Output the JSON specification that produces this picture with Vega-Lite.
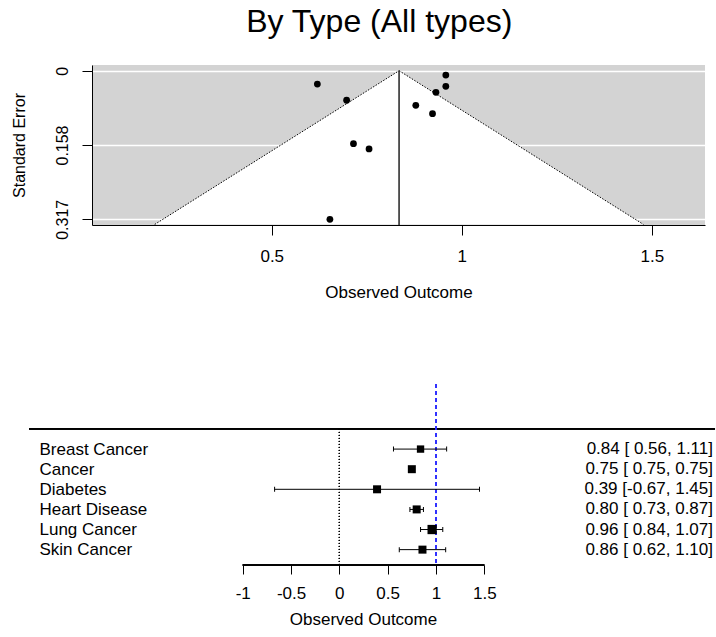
{
  "$schema": "https://vega.github.io/schema/vega-lite/v6.json",
  "padding": {"left": 11, "top": 6, "right": 0, "bottom": 0},
  "title": {"text": "By Type (All types)", "fontSize": 32, "fontWeight": "normal", "color": "black", "anchor": "middle", "dx": 16, "offset": 26},
  "spacing": 83,
  "datasets": {
    "points": [
      {"yi": 0.620, "se": 0.0284},
      {"yi": 0.697, "se": 0.063},
      {"yi": 0.715, "se": 0.1557},
      {"yi": 0.756, "se": 0.167},
      {"yi": 0.653, "se": 0.317},
      {"yi": 0.958, "se": 0.0092},
      {"yi": 0.958, "se": 0.0333},
      {"yi": 0.932, "se": 0.046},
      {"yi": 0.879, "se": 0.0738},
      {"yi": 0.923, "se": 0.0917}
    ],
    "funnel": [
      {"se": 0, "lo": 0.835, "hi": 0.835},
      {"se": 0.328, "lo": 0.192, "hi": 1.478}
    ],
    "studies": [
      {"study": "Breast Cancer", "est": 0.84, "lo": 0.56, "hi": 1.11, "weight": 13.5, "label": "0.84 [ 0.56, 1.11]"},
      {"study": "Cancer", "est": 0.75, "lo": 0.75, "hi": 0.75, "weight": 16, "label": "0.75 [ 0.75, 0.75]"},
      {"study": "Diabetes", "est": 0.39, "lo": -0.67, "hi": 1.45, "weight": 16, "label": "0.39 [-0.67, 1.45]"},
      {"study": "Heart Disease", "est": 0.80, "lo": 0.73, "hi": 0.87, "weight": 16, "label": "0.80 [ 0.73, 0.87]"},
      {"study": "Lung Cancer", "est": 0.96, "lo": 0.84, "hi": 1.07, "weight": 21.5, "label": "0.96 [ 0.84, 1.07]"},
      {"study": "Skin Cancer", "est": 0.86, "lo": 0.62, "hi": 1.10, "weight": 16, "label": "0.86 [ 0.62, 1.10]"}
    ]
  },
  "vconcat": [
    {
      "width": 613,
      "height": 160,
      "view": {"fill": "#d3d3d3", "stroke": null},
      "layer": [
        {
          "data": {"name": "funnel"},
          "mark": {"type": "area", "orient": "horizontal", "fill": "white", "opacity": 1},
          "encoding": {
            "y": {
              "field": "se", "type": "quantitative",
              "scale": {"domain": [-0.0122, 0.3292], "reverse": true, "nice": false, "zero": false},
              "axis": {
                "values": [0, 0.07925, 0.1585, 0.23775, 0.317],
                "labelExpr": "datum.value == 0 ? '0' : datum.value == 0.1585 ? '0.158' : datum.value == 0.317 ? '0.317' : ''",
                "labelAngle": -90, "labelAlign": "center", "labelBaseline": "bottom",
                "labelFlush": false, "labelOverlap": false,
                "tickSize": 10, "labelPadding": 12, "labelFontSize": 16,
                "grid": true, "gridColor": "white", "gridWidth": 1.5,
                "title": "Standard Error", "titleFontSize": 16, "titlePadding": 27
              }
            },
            "x": {
              "field": "lo", "type": "quantitative",
              "scale": {"domain": [0.027, 1.64], "nice": false, "zero": false},
              "axis": {
                "values": [0.5, 1, 1.5], "labelExpr": "'' + datum.value", "grid": false, "tickSize": 10, "labelPadding": 13,
                "labelFontSize": 17, "labelFlush": false,
                "title": "Observed Outcome", "titleFontSize": 17, "titlePadding": 20
              }
            },
            "x2": {"field": "hi"}
          }
        },
        {
          "data": {"name": "funnel"},
          "mark": {"type": "line", "color": "black", "strokeWidth": 1, "strokeDash": [1.5, 1.5]},
          "encoding": {
            "x": {"field": "lo", "type": "quantitative"},
            "y": {"field": "se", "type": "quantitative"}
          }
        },
        {
          "data": {"name": "funnel"},
          "mark": {"type": "line", "color": "black", "strokeWidth": 1, "strokeDash": [1.5, 1.5]},
          "encoding": {
            "x": {"field": "hi", "type": "quantitative"},
            "y": {"field": "se", "type": "quantitative"}
          }
        },
        {
          "data": {"name": "funnel"},
          "mark": {"type": "rule", "color": "#222", "strokeWidth": 1},
          "encoding": {
            "x": {"datum": 0.835, "type": "quantitative"},
            "y": {"datum": 0, "type": "quantitative"},
            "y2": {"datum": 0.3292}
          }
        },
        {
          "data": {"name": "points"},
          "mark": {"type": "circle", "color": "black", "size": 46, "opacity": 1},
          "encoding": {
            "x": {"field": "yi", "type": "quantitative"},
            "y": {"field": "se", "type": "quantitative"}
          }
        }
      ]
    },
    {
      "width": 621,
      "height": 181,
      "view": {"stroke": null},
      "data": {"name": "studies"},
      "layer": [
        {
          "mark": {"type": "rule", "color": "black", "strokeWidth": 1},
          "encoding": {
            "y": {
              "datum": "h1", "type": "nominal",
              "scale": {"type": "point", "domain": ["h2", "h1", "Breast Cancer", "Cancer", "Diabetes", "Heart Disease", "Lung Cancer", "Skin Cancer"], "padding": 1.141, "align": 0.618},
              "axis": {
                "labelExpr": "datum.value == 'h1' || datum.value == 'h2' ? '' : datum.value",
                "ticks": false, "tickSize": 0, "domain": false, "grid": false, "title": null,
                "labelAlign": "left", "labelBaseline": "middle", "labelPadding": 53, "labelFontSize": 17
              }
            },
            "x": {"datum": -3.211, "type": "quantitative", "scale": {"domain": [-2.5593, 3.866], "nice": false, "zero": false},
              "axis": {
                "values": [-1, -0.5, 0, 0.5, 1, 1.5], "labelExpr": "'' + datum.value", "domain": false, "grid": false, "tickSize": 9,
                "labelPadding": 11, "labelFontSize": 17, "labelFlush": false,
                "title": "Observed Outcome", "titleFontSize": 17, "titlePadding": 10, "titleX": 271, "titleAlign": "center"
              }
            },
            "x2": {"datum": 3.887}
          }
        },
        {
          "mark": {"type": "rule", "color": "#2f2fff", "strokeWidth": 1, "strokeDash": [4, 3]},
          "encoding": {
            "x": {"datum": 1, "type": "quantitative"}
          }
        },
        {
          "mark": {"type": "rule", "color": "black", "strokeWidth": 1, "strokeDash": [1, 2]},
          "encoding": {
            "x": {"datum": 0, "type": "quantitative"},
            "y": {"datum": "h1", "type": "nominal"},
            "y2": {"value": "height"}
          }
        },
        {
          "mark": {"type": "rule", "color": "black", "strokeWidth": 1},
          "encoding": {
            "x": {"datum": -1, "type": "quantitative"},
            "x2": {"datum": 1.5},
            "y": {"value": "height"}
          }
        },
        {
          "mark": {"type": "rule", "color": "black", "strokeWidth": 1},
          "encoding": {
            "x": {"field": "lo", "type": "quantitative"},
            "x2": {"field": "hi"},
            "y": {"field": "study", "type": "nominal"}
          }
        },
        {
          "mark": {"type": "tick", "orient": "vertical", "size": 5, "thickness": 1, "color": "black", "opacity": 1},
          "encoding": {
            "x": {"field": "lo", "type": "quantitative"},
            "y": {"field": "study", "type": "nominal"}
          }
        },
        {
          "mark": {"type": "tick", "orient": "vertical", "size": 5, "thickness": 1, "color": "black", "opacity": 1},
          "encoding": {
            "x": {"field": "hi", "type": "quantitative"},
            "y": {"field": "study", "type": "nominal"}
          }
        },
        {
          "mark": {"type": "square", "filled": true, "color": "black", "opacity": 1},
          "encoding": {
            "x": {"field": "est", "type": "quantitative"},
            "y": {"field": "study", "type": "nominal"},
            "size": {"field": "weight", "type": "quantitative", "scale": {"type": "linear", "domain": [0, 25], "range": [0, 100]}, "legend": null}
          }
        },
        {
          "mark": {"type": "text", "align": "right", "baseline": "middle", "fontSize": 17, "color": "black"},
          "encoding": {
            "x": {"datum": 3.866, "type": "quantitative"},
            "y": {"field": "study", "type": "nominal"},
            "text": {"field": "label"}
          }
        }
      ]
    }
  ],
  "config": {
    "font": "Liberation Sans",
    "view": {"stroke": null},
    "axis": {"labelColor": "black", "titleColor": "black", "domainColor": "black", "tickColor": "black", "titleFontWeight": "normal"}
  }
}
